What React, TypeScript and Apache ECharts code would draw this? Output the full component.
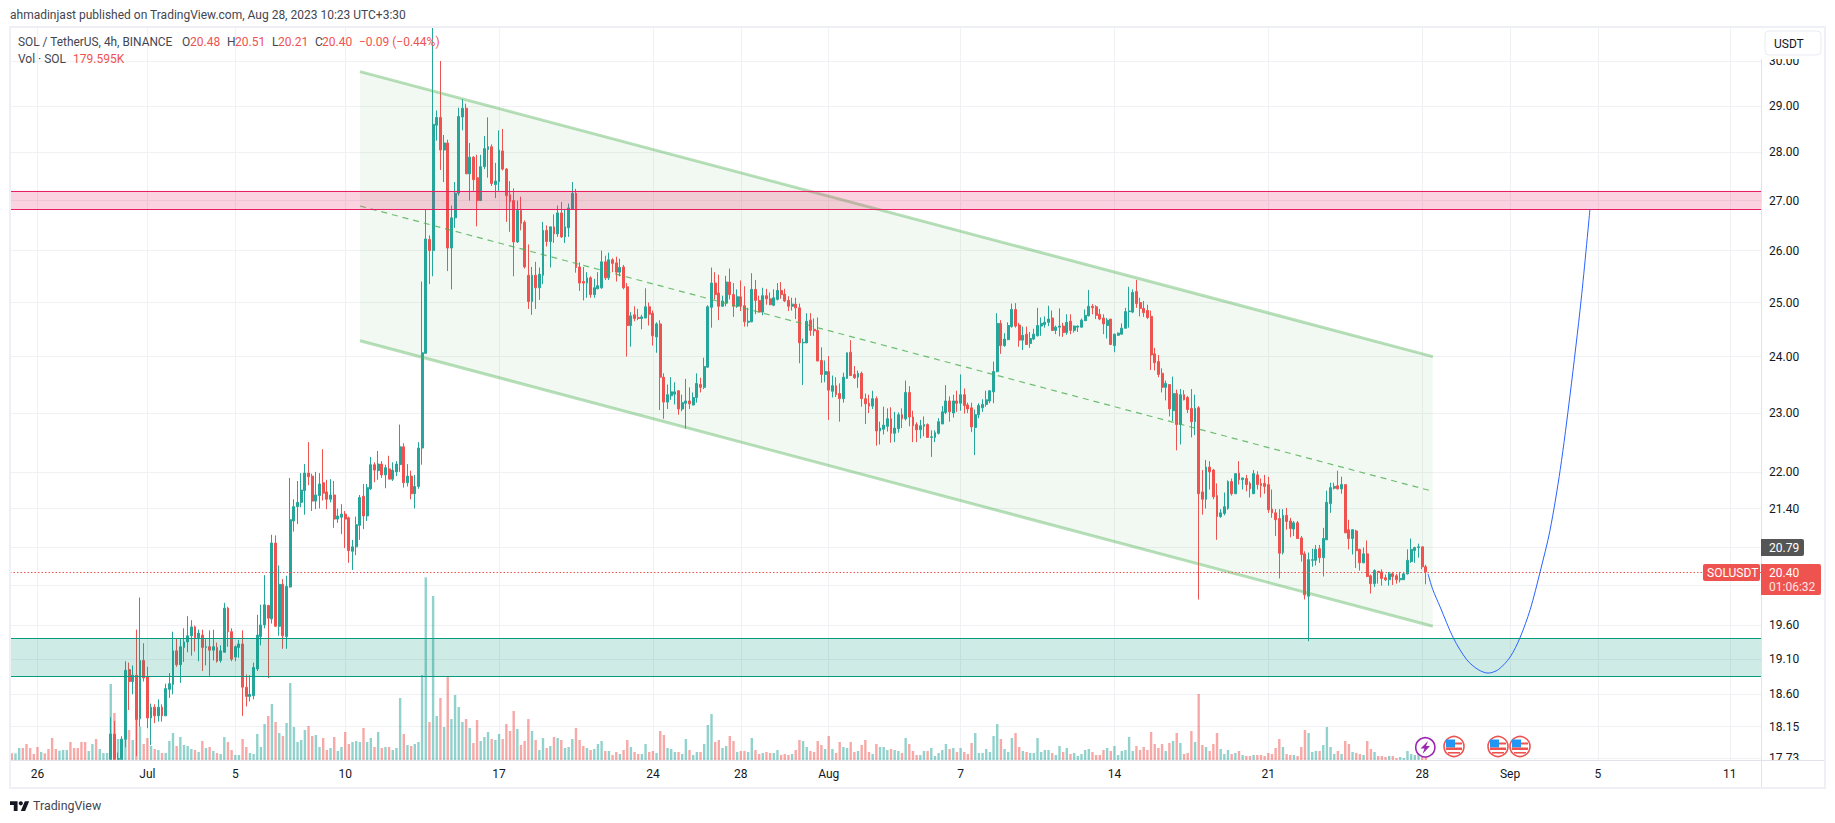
import React, { useEffect, useRef } from "react";
import * as echarts from "echarts";

// Candles: [open, close, low, high], 4h bars, first bar is 24 Jun 2023 20:00
const candles: number[][] = [
[16.7,16.6,16.5,16.8],[16.6,16.7,16.5,16.8],[16.7,16.8,16.6,16.85],[16.8,16.7,16.6,16.85],[16.7,16.6,16.5,16.8],[16.6,16.5,16.4,16.7],[16.5,16.45,16.4,16.6],[16.45,16.35,16.3,16.5],[16.35,16.45,16.3,16.5],[16.45,16.4,16.3,16.5],
[16.4,16.3,16.2,16.45],[16.3,16.1,16,16.35],[16.1,16.05,16,16.2],[16.05,16.15,16,16.2],[16.15,16.25,16.1,16.3],[16.25,16.3,16.2,16.4],[16.3,16.15,16.1,16.35],[16.15,16.1,16,16.2],[16.1,16.05,16,16.2],[16.05,15.95,15.9,16.1],
[15.95,15.9,15.8,16],[15.9,16,15.85,16.05],[16,16.1,15.95,16.2],[16.1,16,15.9,16.2],[16,16.2,15.95,16.3],[16.2,16.4,16.1,16.5],[16.4,16.7,16.3,16.8],
[17.71,18.05,17.71,18.28],[18.05,17.71,17.71,18.23],[17.71,17.72,17.71,17.8],[17.71,17.98,17.71,18.02],[17.98,18.94,17.87,19.07],[18.95,18.78,18.38,19.05],[18.78,18.87,18.6,19.01],[18.87,18.25,17.75,19.53],[18.26,19.08,18.15,20.01],
[19.08,18.83,18.78,19.33],[18.85,18.27,18.13,18.99],[18.27,18.42,17.9,18.47],[18.42,18.3,18.2,18.46],[18.3,18.42,18.22,18.53],[18.42,18.3,18.22,18.46],[18.3,18.68,18.3,18.75],[18.67,18.75,18.55,18.9],[18.74,19.22,18.6,19.5],[19.22,19.02,18.99,19.4],
[19.02,19.28,18.76,19.39],[19.27,19.35,19.06,19.55],[19.35,19.44,19.2,19.73],[19.44,19.57,19.15,19.67],[19.57,19.41,19.21,19.59],[19.41,19.48,19.07,19.53],[19.45,19.27,18.93,19.53],[19.27,19.28,19.01,19.39],[19.28,19.23,18.86,19.52],[19.23,19.28,19.08,19.53],
[19.27,19.07,19.05,19.34],[19.08,19.22,19.05,19.3],[19.2,19.85,19.2,19.93],[19.85,19.5,19.28,19.87],[19.5,19.1,19.07,19.55],[19.13,19.28,19.07,19.3],[19.27,19.32,19.12,19.38],[19.32,18.7,18.3,19.52],[18.7,18.57,18.43,18.88],[18.57,18.6,18.5,18.87],
[18.58,18.98,18.53,19.05],[18.96,19.45,18.93,19.75],[19.43,19.6,19.3,19.9],[19.6,19.9,19.55,20.35],[19.89,19.7,18.83,19.9],[19.69,20.85,19.62,20.98],[20.85,19.58,19.58,20.97],[19.58,20.21,19.44,20.5],[20.21,19.44,19.25,20.29],[19.43,20.18,19.25,20.34],
[20.17,21.22,20.16,21.9],[21.2,21.43,21.03,21.55],[21.43,21.5,21.15,21.85],[21.5,21.7,21.42,21.98],[21.69,21.98,21.3,22.13],[21.98,21.92,21.78,22.5],[21.93,21.52,21.36,21.97],[21.52,21.62,21.39,22],[21.61,21.8,21.4,21.98],[21.82,21.65,21.53,22.38],
[21.67,21.55,21.39,21.87],[21.55,21.62,21.5,21.88],[21.62,21.23,21.09,21.85],[21.23,21.28,21.17,21.4],[21.26,21.31,20.99,21.47],[21.31,21.23,20.77,21.36],[21.25,20.73,20.54,21.27],[20.72,20.79,20.43,20.9],[20.79,21.14,20.66,21.27],[21.13,21.58,20.9,21.62],
[21.6,21.28,21.07,21.8],[21.28,21.74,21.2,21.8],[21.72,22.12,21.7,22.25],[22.12,22.03,21.83,22.16],[22.02,22.13,21.87,22.35],[22.13,21.95,21.9,22.18],[21.95,22.07,21.73,22.12],[22.05,21.88,21.88,22.27],[21.88,22.03,21.85,22.16],[22,22.13,21.93,22.18],
[22.12,22.42,22,22.8],[22.42,21.82,21.74,22.48],[21.82,21.93,21.76,22.13],[21.93,21.64,21.55,22.02],[21.64,21.76,21.4,21.95],[21.76,22.4,21.72,22.5],[22.4,24.07,22.12,25.4],[24.06,26.23,24.06,26.81],[26.22,26,25.35,26.3],[26,28.6,25.5,30.78],
[28.58,28.75,28.25,28.9],[28.75,28.05,27.63,30],[28.05,28.2,27.38,28.37],[28.2,26.05,25.6,28.27],[26.05,26.65,25.25,26.9],[26.65,27.15,26.45,27.38],[27.15,28.77,27.1,28.96],[28.76,28.95,28.47,29.15],[28.95,27.55,27.55,29.05],[27.55,27.9,27,28.2],
[27.9,27.43,27.2,27.92],[27.47,27,26.48,27.95],[27,27.7,27,27.95],[27.7,28.08,27.65,28.35],[28.06,28.12,27.47,28.75],[28.12,27.35,27.3,28.17],[27.33,27.4,27.05,27.78],[27.39,28.05,27.2,28.47],[28.03,27.65,27.62,28.5],[27.65,27.1,26.57,27.67],
[27.12,26.98,26.37,27.4],[27,26.17,25.5,27.25],[26.17,26.8,26.15,27],[26.8,26.54,26.4,27.08],[26.56,25.68,25.65,26.6],[25.52,25.02,24.88,26.12],[25.02,25.52,24.77,25.68],[25.52,25.28,24.88,25.78],[25.28,25.54,25.05,25.67],[25.52,26.4,25.35,26.57],
[26.4,26.18,26.08,26.5],[26.18,26.47,25.67,26.47],[26.47,26.33,26.15,26.72],[26.33,26.75,26.27,26.9],[26.75,26.27,26.25,26.97],[26.27,26.47,26.15,26.83],[26.45,26.85,26.27,26.94],[26.82,27.15,26.82,27.38],[27.15,25.67,25.57,27.24],[25.68,25.37,25.22,25.77],
[25.4,25.37,25.04,25.68],[25.37,25.47,25.09,25.58],[25.47,25.15,25.09,25.5],[25.15,25.28,25.09,25.45],[25.26,25.32,25.26,25.58],[25.28,25.78,25.26,26],[25.78,25.47,25.43,25.9],[25.47,25.82,25.43,25.96],[25.82,25.75,25.58,25.85],[25.76,25.58,25.4,25.88],
[25.58,25.67,25.5,25.84],[25.68,25.28,25.25,25.72],[25.3,24.57,24,25.37],[24.57,24.75,24.18,24.82],[24.77,24.7,24.65,24.93],[24.72,24.7,24.67,24.88],[24.7,24.73,24.5,24.77],[24.71,24.92,24.71,25.27],[24.92,24.78,24.57,25],[24.8,24.38,24.2,24.85],
[24.36,24.6,24.07,24.63],[24.6,23.63,23.05,24.67],[23.63,23.19,22.9,23.7],[23.19,23.32,23.07,23.5],[23.3,23.37,23.23,23.63],[23.33,23.37,23.15,23.54],[23.39,23.07,22.97,23.4],[23.07,23.18,23.03,23.32],[23.17,23.21,22.73,23.6],[23.21,23.16,23.07,23.45],
[23.14,23.27,23.13,23.36],[23.27,23.52,23.18,23.7],[23.5,23.45,23.36,23.62],[23.45,23.82,23.42,23.98],[23.81,24.92,23.8,24.95],[24.91,25.37,24.53,25.67],[25.37,25.15,25.06,25.58],[25.18,24.93,24.67,25.53],[24.93,25.03,24.92,25.13],[24.99,25.39,24.93,25.51],
[25.39,25.15,25.06,25.65],[25.15,24.93,24.73,25.37],[24.93,25.11,24.9,25.25],[25.11,24.93,24.84,25.42],[24.94,24.64,24.55,25.31],[24.63,24.65,24.55,24.9],[24.64,25.25,24.63,25.56],[25.25,25.04,24.78,25.43],[25.04,24.82,24.82,25.13],[24.82,25.13,24.76,25.28],
[25.13,25.07,24.96,25.26],[25.07,24.96,24.95,25.19],[24.95,25.09,24.93,25.25],[25.06,25.23,25.04,25.37],[25.23,25.15,25.07,25.39],[25.16,25.03,25.01,25.26],[25.04,24.93,24.84,25.12],[24.93,24.97,24.85,25.09],[24.97,24.9,24.69,25.09],[24.9,24.25,23.88,24.98],
[24.25,24.26,23.49,24.33],[24.25,24.65,24.25,24.8],[24.67,24.48,24.38,24.8],[24.5,24.47,24.38,24.7],[24.48,23.92,23.93,24.72],[23.93,23.68,23.53,24.17],[23.68,23.73,23.54,23.93],[23.73,23.4,22.88,24.01],[23.38,23.48,23.27,23.66],[23.48,23.32,23.28,23.63],
[23.34,23.25,22.85,23.52],[23.25,23.63,23.18,23.71],[23.61,24.07,23.6,24.07],[24.08,23.66,23.65,24.3],[23.68,23.62,23.6,23.83],[23.63,23.7,23.44,23.75],[23.7,23.25,23.11,23.73],[23.25,23.16,22.81,23.34],[23.17,23.12,23,23.32],[23.12,23.25,23.07,23.39],
[23.25,22.69,22.44,23.29],[22.69,22.74,22.46,22.85],[22.72,22.79,22.63,23.11],[22.77,22.9,22.68,23.08],[22.9,22.65,22.49,23.1],[22.65,22.74,22.5,23.02],[22.73,22.97,22.66,23.01],[22.97,22.9,22.74,23.08],[22.9,23.36,22.87,23.57],[23.36,22.93,22.77,23.47],
[22.93,22.78,22.5,23.04],[22.8,22.71,22.5,22.84],[22.71,22.78,22.56,22.88],[22.77,22.8,22.6,22.94],[22.8,22.58,22.58,22.82],[22.58,22.59,22.25,22.7],[22.58,22.66,22.5,22.7],[22.65,22.85,22.63,22.91],[22.81,23.02,22.81,23.12],[23.01,23.21,22.98,23.49],
[23.21,23.02,22.85,23.29],[23,23.21,22.92,23.32],[23.21,23.17,23.02,23.39],[23.17,23.32,23.04,23.68],[23.32,23.13,22.99,23.43],[23.14,23.07,23,23.18],[23.09,22.76,22.67,23.18],[22.75,22.97,22.28,23.06],[22.97,23.13,22.91,23.17],[23.09,23.15,23.02,23.24],
[23.15,23.23,23.11,23.39],[23.21,23.39,23.17,23.39],[23.37,23.73,23.17,23.91],[23.73,24.61,23.72,24.8],[24.61,24.2,24.05,24.67],[24.2,24.32,24.18,24.43],[24.31,24.57,24.3,24.63],[24.55,24.87,24.53,24.98],[24.87,24.56,24.53,24.99],[24.58,24.3,24.18,24.62],
[24.3,24.39,24.12,24.55],[24.41,24.22,24.22,24.55],[24.24,24.33,24.16,24.45],[24.32,24.41,24.3,24.51],[24.38,24.57,24.37,24.9],[24.56,24.61,24.38,24.72],[24.59,24.63,24.53,24.74],[24.63,24.69,24.56,24.94],[24.71,24.48,24.47,24.85],[24.48,24.54,24.41,24.57],
[24.54,24.56,24.37,24.89],[24.56,24.44,24.36,24.62],[24.44,24.63,24.4,24.78],[24.65,24.48,24.41,24.78],[24.48,24.56,24.44,24.57],[24.54,24.56,24.45,24.57],[24.54,24.67,24.53,24.7],[24.66,24.76,24.66,24.87],[24.75,24.93,24.74,25.24],[24.93,24.9,24.78,24.97],
[24.92,24.76,24.69,24.95],[24.78,24.69,24.67,24.88],[24.71,24.6,24.41,24.78],[24.57,24.67,24.33,24.71],[24.69,24.22,24.22,24.69],[24.2,24.41,24.08,24.42],[24.39,24.43,24.38,24.44],[24.41,24.52,24.41,24.61],[24.52,24.83,24.52,24.9],[24.83,24.84,24.53,25.3],
[24.82,25.19,24.8,25.25],[25.21,24.98,24.9,25.43],[25,24.89,24.74,25.09],[24.89,24.81,24.73,25.03],[24.85,24.72,24.69,24.96],[24.74,24.03,23.76,24.85],[24.05,23.89,23.75,24.16],[23.91,23.68,23.63,24.03],[23.7,23.45,23.36,23.79],[23.45,23.52,23.22,23.57],
[23.5,23.07,22.94,23.5],[23.04,23.34,22.86,23.64],[23.34,22.8,22.36,23.41],[22.8,23.32,22.46,23.42],[23.32,23.23,23.22,23.4],[23.27,23.06,23,23.3],[23.08,22.85,22.58,23.42],[22.85,23.08,22.62,23.32],[23.09,21.64,19.98,23.12],[21.67,21.55,21.3,22.03],
[21.55,22.08,21.4,22.2],[22.08,22,21.71,22.18],[22.03,21.59,21.55,22.05],[21.61,21.27,20.9,21.81],[21.27,21.33,21.25,21.39],[21.32,21.43,21.29,21.66],[21.4,21.84,21.38,21.86],[21.84,21.64,21.61,21.89],[21.64,21.97,21.64,21.98],[21.98,21.87,21.79,22.18],
[21.87,21.9,21.71,21.9],[21.89,21.79,21.68,21.95],[21.81,21.72,21.58,21.84],[21.64,21.97,21.64,22.03],[21.95,21.79,21.71,22.01],[21.81,21.77,21.58,21.89],[21.81,21.76,21.64,21.95],[21.79,21.38,21.33,21.92],[21.39,21.33,21.25,21.71],[21.33,21.22,20.96,21.39],
[21.24,20.69,20.3,21.39],[20.7,21.29,20.67,21.39],[21.29,21.19,21.06,21.41],[21.2,21.08,20.94,21.25],[21.07,21.17,20.96,21.2],[21.17,20.92,20.92,21.2],[20.93,20.67,20.56,20.96],[20.68,20.05,19.98,20.72],[20.03,20.59,19.36,20.7],[20.58,20.59,20.48,20.76],
[20.58,20.75,20.5,20.82],[20.76,20.62,20.54,20.82],[20.62,20.92,20.33,21.09],[20.9,21.5,20.9,21.69],[21.48,21.74,21.33,21.82],[21.73,21.76,21.71,21.82],[21.77,21.72,21.71,22.02],[21.72,21.79,21.64,21.92],[21.79,21.01,21.01,21.79],[21.06,20.92,20.75,21.22],
[20.92,21.06,20.67,21.07],[21.04,20.73,20.46,21.06],[20.75,20.54,20.42,20.76],[20.54,20.68,20.54,20.78],[20.68,20.33,20.32,20.89],[20.34,20.22,20.07,20.36],[20.22,20.42,20.17,20.44],[20.41,20.39,20.22,20.41],[20.4,20.3,20.19,20.44],[20.31,20.28,20.26,20.36],
[20.28,20.37,20.19,20.4],[20.37,20.33,20.2,20.4],[20.34,20.28,20.22,20.37],[20.28,20.3,20.24,20.4],[20.28,20.37,20.28,20.4],[20.37,20.58,20.36,20.75],[20.56,20.75,20.54,20.92],[20.73,20.78,20.54,20.79],[20.78,20.79,20.62,20.84],[20.79,20.48,20.44,20.79],
[20.48,20.4,20.21,20.51],
];

// Volume per bar, in thousands of SOL
const volumes: number[] = [
400,400,720,720,960,720,360,780,480,400,660,1320,660,560,600,600,1080,720,720,1080,1080,540,960,1260,660,420,420,4560,2820,1260,1260,3200,1800,1200,3800,2000,960,1320,840,660,600,420,420,1140,1620,840,1380,900,840,660,600,480,1140,720,780,540,420,360,1380,1080,600,300,300,1260,780,420,360,1560,780,2160,2640,3360,2280,1620,1440,2220,4620,1980,1080,1200,1800,2040,1440,1500,780,1320,600,720,1380,540,780,1680,960,1080,1140,1080,1920,1080,1320,780,1680,720,780,780,600,720,3720,
1560,900,840,960,1080,5100,10960,2280,9840,2640,3720,1980,5000,2460,3900,3180,2280,2460,1920,1020,2400,1140,1380,1680,1260,1200,1560,1260,2160,1740,2940,1860,900,1140,2460,1740,1200,600,1320,720,840,1380,1320,1200,720,780,1260,1920,1200,840,720,600,660,960,1140,540,540,300,480,360,600,1200,780,480,360,360,960,480,540,420,1740,1500,720,660,480,480,360,1260,600,300,480,480,960,2100,2760,1080,1200,720,840,1440,1140,480,540,540,480,1320,600,360,420,480,420,420,600,300,360,300,360,600,1200,1140,780,540,480,1140,900,660,1440,660,420,1080,780,720,1080,480,540,900,1200,480,360,960,780,780,600,660,600,540,420,1320,960,540,300,300,540,540,720,240,420,600,960,660,720,480,720,480,360,1020,1620,420,420,660,480,1440,2160,1260,660,480,1320,1620,780,540,480,420,420,1320,480,600,600,420,300,840,480,720,360,420,240,360,600,660,480,300,300,
600,720,540,840,300,540,600,1380,540,840,600,780,600,1680,960,720,960,540,1020,1140,1620,1020,360,420,1740,1080,3960,900,780,540,960,1620,660,360,600,360,420,540,300,240,240,300,300,300,240,420,360,720,1260,780,360,300,300,240,780,1800,1620,480,540,540,900,1980,780,360,540,360,1140,960,480,420,360,300,1140,660,480,240,240,180,240,240,120,180,120,540,360,300,540,180,179.595,
];

const tickIndexes = [7, 37, 61, 91, 133, 175, 199, 223, 259, 301, 343, 385, 409, 433, 469];
const tickLabels = ["26", "Jul", "5", "10", "17", "24", "28", "Aug", "7", "14", "21", "28", "Sep", "5", "11"];
const priceTicks = [30, 29, 28, 27, 26, 25, 24, 23, 22, 21.4, 20.79, 20.2, 19.6, 19.1, 18.6, 18.15, 17.73];
const hiddenPriceLabels = [20.79, 20.2];

const slotCount = 478;
const lastPrice = 20.4;
const resistanceZone = [27.2, 26.82];
const supportZone = [19.4, 18.86];
const channelX = [95.05, 387.9];
const channelUpper = [29.76, 24.0];
const channelLower = [24.29, 19.58];
const channelMiddle = [26.89, 21.68];
const forecastPath: number[][] = [
  [386.6, 20.37], [387.9, 20.13], [389.9, 19.87], [393.5, 19.41], [397.2, 19.09], [400.3, 18.95], [403, 18.9],
  [405.8, 18.95], [409, 19.13], [411.7, 19.41], [414.5, 19.83], [417.2, 20.4], [419.9, 21.05], [422.7, 22.04],
  [425.4, 23.33], [428.4, 25.05], [430.8, 26.82],
];

const UP = "#26a69a";
const DOWN = "#ef5350";
const PINK = "#e91e63";
const TEAL = "#089981";
const FONT = "Roboto, sans-serif";
const TEXT = "#131722";

echarts.graphic.registerShape(
  "tvlogo",
  echarts.graphic.extendPath("M14 22H7V11H0V4h14v18zM28 22h-8l7.5-18h8L28 22z", {})
);

const label = (text: string, x: number, y: number, fill: string, size = 12, extra: any = {}) => ({
  type: "text",
  z: 30,
  silent: true,
  style: { text, x, y, fill, font: `${size}px ${FONT}`, verticalAlign: "middle", align: "left", ...extra },
});

const flag = (cx: number, cy: number) => ({
  type: "group",
  z: 30,
  silent: true,
  children: [
    { type: "circle", z: 30, shape: { cx, cy, r: 10 }, style: { fill: "#fff", stroke: "#ef5350", lineWidth: 1.6 } },
    { type: "rect", z: 31, shape: { x: cx - 8, y: cy - 7, width: 9, height: 8 }, style: { fill: "#2196f3" } },
    { type: "rect", z: 31, shape: { x: cx + 1, y: cy - 4, width: 7, height: 2 }, style: { fill: "#ef5350" } },
    { type: "rect", z: 31, shape: { x: cx - 8, y: cy + 1, width: 16, height: 2.5 }, style: { fill: "#ef5350" } },
    { type: "rect", z: 31, shape: { x: cx - 6, y: cy + 5.5, width: 12, height: 1.6 }, style: { fill: "#ef5350" } },
  ],
});

export default function App() {
  const ref = useRef<HTMLDivElement>(null);

  useEffect(() => {
    document.body.style.margin = "0";
    const chart = echarts.init(ref.current!, null, { renderer: "svg" });
    const categories = Array.from({ length: slotCount }, (_, i) =>
      new Date(Date.UTC(2023, 5, 24, 20) + i * 4 * 3600 * 1000).toISOString()
    );
    const volumeData = volumes.map((v, i) => ({
      value: v,
      itemStyle: { color: candles[i][1] >= candles[i][0] ? "rgba(38,166,154,0.5)" : "rgba(239,83,80,0.5)" },
    }));
    const channelLine = (vals: number[], lineStyle: any, z: number) => ({
      type: "line",
      xAxisIndex: 1,
      yAxisIndex: 0,
      data: [[channelX[0], vals[0]], [channelX[1], vals[1]]],
      symbol: "none",
      silent: true,
      z,
      lineStyle,
    });
    const edge = (yAxis: number, color: string) => ({
      yAxis,
      lineStyle: { color, type: "solid", width: 1 },
    });

    chart.setOption({
      animation: false,
      backgroundColor: "#fff",
      tooltip: { show: false },
      grid: { left: 10, top: 27, width: 1751, height: 733, containLabel: false },
      xAxis: [
        {
          type: "category",
          data: categories,
          gridIndex: 0,
          axisLine: { show: false },
          axisTick: { show: false },
          axisLabel: { show: false },
          splitLine: { show: false },
        },
        {
          type: "value",
          gridIndex: 0,
          min: -0.5,
          max: slotCount - 0.5,
          position: "bottom",
          axisLine: { show: false },
          axisTick: { show: false, customValues: tickIndexes },
          axisLabel: {
            show: true,
            customValues: tickIndexes,
            margin: 8,
            color: TEXT,
            fontFamily: FONT,
            fontSize: 12,
            hideOverlap: false,
            formatter: (v: number) => tickLabels[tickIndexes.indexOf(Math.round(v))] ?? "",
          },
          splitLine: { show: true, lineStyle: { color: "#f0f1f4", width: 1 } },
        },
      ],
      yAxis: [
        {
          type: "log",
          logBase: 10,
          gridIndex: 0,
          position: "right",
          min: 17.7,
          max: 30.78,
          axisLine: { show: false },
          axisTick: { show: false, customValues: priceTicks },
          axisLabel: {
            show: true,
            customValues: priceTicks.filter((p) => !hiddenPriceLabels.includes(p)),
            margin: 8,
            color: TEXT,
            fontFamily: FONT,
            fontSize: 12,
            hideOverlap: false,
            showMinLabel: true,
            showMaxLabel: true,
            formatter: (v: number) => v.toFixed(2),
          },
          splitLine: { show: true, lineStyle: { color: "#f0f1f4", width: 1 } },
        },
        {
          type: "value",
          gridIndex: 0,
          min: 0,
          max: 43980,
          show: false,
          splitLine: { show: false },
        },
      ],
      series: [
        {
          type: "custom",
          xAxisIndex: 1,
          yAxisIndex: 0,
          z: 1,
          silent: true,
          data: [[channelX[0], channelUpper[0]]],
          renderItem: (_p: any, api: any) => ({
            type: "polygon",
            shape: {
              points: [
                api.coord([channelX[0], channelUpper[0]]),
                api.coord([channelX[1], channelUpper[1]]),
                api.coord([channelX[1], channelLower[1]]),
                api.coord([channelX[0], channelLower[0]]),
              ],
            },
            style: { fill: "rgba(76,175,80,0.075)" },
          }),
        },
        {
          type: "bar",
          name: "Vol",
          xAxisIndex: 0,
          yAxisIndex: 1,
          data: volumeData,
          barWidth: 2.4,
          silent: true,
          z: 2,
        },
        {
          type: "candlestick",
          name: "SOLUSDT",
          xAxisIndex: 0,
          yAxisIndex: 0,
          data: candles,
          barWidth: 2.4,
          clip: true,
          silent: true,
          z: 3,
          itemStyle: { color: UP, color0: DOWN, borderColor: UP, borderColor0: DOWN, borderWidth: 1 },
          markLine: {
            silent: true,
            symbol: "none",
            z: 6,
            label: { show: false },
            lineStyle: { color: DOWN, type: [1.5, 2], width: 1, opacity: 1 },
            data: [
              { yAxis: lastPrice },
              edge(resistanceZone[0], PINK),
              edge(resistanceZone[1], PINK),
              edge(supportZone[0], TEAL),
              edge(supportZone[1], TEAL),
            ],
          },
          markArea: {
            silent: true,
            z: 5,
            data: [
              [{ yAxis: resistanceZone[0], itemStyle: { color: "rgba(233,30,99,0.2)", borderWidth: 0 } }, { yAxis: resistanceZone[1] }],
              [{ yAxis: supportZone[0], itemStyle: { color: "rgba(0,150,120,0.19)", borderWidth: 0 } }, { yAxis: supportZone[1] }],
            ],
          },
        },
        channelLine(channelUpper, { color: "rgba(76,175,80,0.4)", width: 3 }, 4),
        channelLine(channelLower, { color: "rgba(76,175,80,0.4)", width: 3 }, 4),
        channelLine(channelMiddle, { color: "rgba(76,175,80,0.8)", width: 1.2, type: [6, 5] }, 4),
        {
          type: "line",
          xAxisIndex: 1,
          yAxisIndex: 0,
          data: forecastPath,
          smooth: 0.3,
          symbol: "none",
          silent: true,
          z: 6,
          lineStyle: { color: "#2962ff", width: 1 },
        },
      ],
      graphic: [
        // frame and separators
        { type: "rect", z: 20, silent: true, shape: { x: 1762, y: 27, width: 62, height: 32 }, style: { fill: "#fff" } },
        { type: "rect", z: 20, silent: true, shape: { x: 1762, y: 761, width: 62, height: 26 }, style: { fill: "#fff" } },
        { type: "rect", z: 21, silent: true, shape: { x: 10, y: 27, width: 1815, height: 761 }, style: { fill: "none", stroke: "#eff0f6", lineWidth: 2 } },
        { type: "line", z: 21, silent: true, shape: { x1: 11, y1: 760.5, x2: 1824, y2: 760.5 }, style: { stroke: "#e0e3eb", lineWidth: 1 } },
        { type: "line", z: 21, silent: true, shape: { x1: 1761.5, y1: 59, x2: 1761.5, y2: 787 }, style: { stroke: "#e0e3eb", lineWidth: 1 } },
        // header and legend
        label("ahmadinjast published on TradingView.com, Aug 28, 2023 10:23 UTC+3:30", 10, 15, "#434651", 12),
        label("SOL / TetherUS, 4h, BINANCE", 18, 42, "#434651", 11.9),
        label("O", 182, 42, "#434651", 12),
        label("20.48", 190, 42, DOWN, 12),
        label("H", 227, 42, "#434651", 12),
        label("20.51", 235, 42, DOWN, 12),
        label("L", 272, 42, "#434651", 12),
        label("20.21", 278, 42, DOWN, 12),
        label("C", 315, 42, "#434651", 12),
        label("20.40", 322, 42, DOWN, 12),
        label("\u22120.09 (\u22120.44%)", 359, 42, DOWN, 12),
        label("Vol \u00b7 SOL", 18, 59, "#434651", 12),
        label("179.595K", 73, 59, DOWN, 12),
        // currency box
        { type: "rect", z: 30, silent: true, shape: { x: 1765, y: 31, width: 56, height: 24, r: 4 }, style: { fill: "#fff", stroke: "#e9ebf3", lineWidth: 1 } },
        label("USDT", 1774, 43.5, TEXT, 12),
        // price badges
        { type: "rect", z: 30, silent: true, shape: { x: 1761, y: 539, width: 43, height: 17, r: [0, 2, 2, 0] }, style: { fill: "#555555" } },
        label("20.79", 1769, 547.5, "#fff", 12),
        { type: "rect", z: 30, silent: true, shape: { x: 1761, y: 564, width: 60, height: 31, r: [0, 2, 2, 0] }, style: { fill: DOWN } },
        label("20.40", 1769, 573, "#fff", 12),
        label("01:06:32", 1769, 587, "#fde3e2", 12),
        { type: "rect", z: 30, silent: true, shape: { x: 1703, y: 564, width: 57, height: 17, r: 2 }, style: { fill: DOWN } },
        label("SOLUSDT", 1707, 572.8, "#fff", 12),
        // events
        { type: "circle", z: 30, silent: true, shape: { cx: 1425.3, cy: 747.3, r: 9.6 }, style: { fill: "#fff", stroke: "#9c27b0", lineWidth: 1.6 } },
        {
          type: "polygon",
          z: 31,
          silent: true,
          shape: { points: [[1428, 741], [1420.5, 748.5], [1424.5, 748.5], [1422.5, 754], [1430, 746], [1426, 746]] },
          style: { fill: "#9c27b0" },
        },
        flag(1454, 746.5),
        flag(1498, 746.5),
        flag(1520, 746.5),
        // footer logo
        { type: "tvlogo", z: 30, silent: true, x: 10, y: 799, scaleX: 0.54, scaleY: 0.54, style: { fill: TEXT } },
        { type: "circle", z: 30, silent: true, shape: { cx: 20.8, cy: 803.3, r: 2.1 }, style: { fill: TEXT } },
        label("TradingView", 33, 805.5, "#434651", 12.4),
      ],
    });
    return () => chart.dispose();
  }, []);

  return <div ref={ref} style={{ width: 1835, height: 823 }} />;
}
